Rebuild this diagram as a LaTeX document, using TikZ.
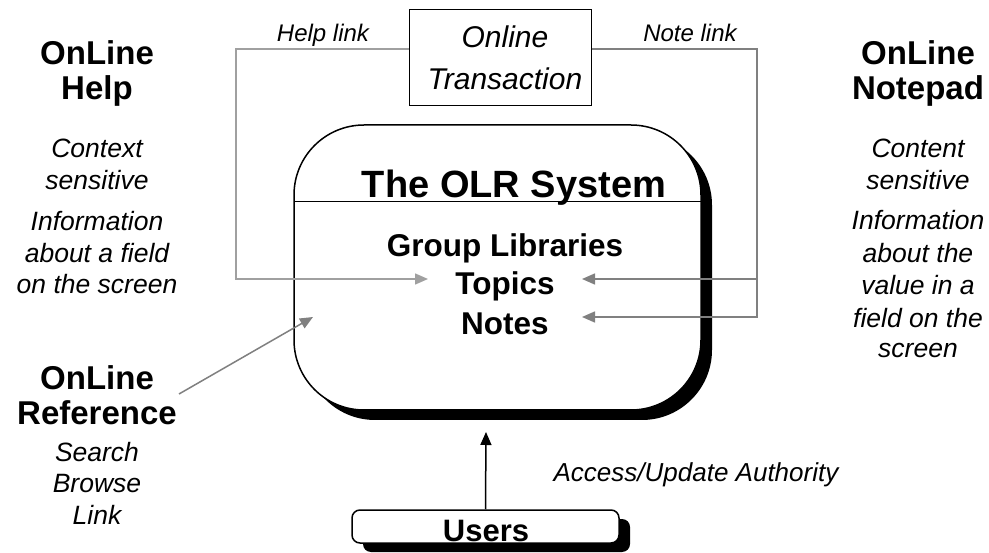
\documentclass[tikz,border=0pt]{standalone}
\usepackage{fontspec}
\setmainfont{Liberation Sans}
\usetikzlibrary{arrows.meta,shadows}
\definecolor{lgray}{HTML}{A0A0A0}
\definecolor{dgray}{HTML}{808080}
\tikzset{
  hd/.style={font=\fontsize{33}{37}\selectfont\bfseries, anchor=base, inner sep=0pt},
  itx/.style={font=\fontsize{26.5}{32}\selectfont\itshape, anchor=base, inner sep=0pt},
  lnk/.style={font=\fontsize{24}{28}\selectfont\itshape, anchor=base, inner sep=0pt},
  inner/.style={font=\fontsize{31.5}{39}\selectfont\bfseries, anchor=base, inner sep=0pt},
  tip/.style={-{Triangle[length=13pt,width=11pt]}},
  helpln/.style={draw=lgray, line width=1.5pt, tip},
  noteln/.style={draw=dgray, line width=1.5pt, tip},
  shbox/.style={draw=black, fill=white, line width=1.5pt,
    drop shadow={shadow xshift=11pt, shadow yshift=-10pt, fill=black, opacity=1}},
}
\begin{document}
\begin{tikzpicture}[x=1pt,y=-1pt]
\useasboundingbox (0,0) rectangle (989,553);
\fill[white] (0,0) rectangle (989,553);

% main system box
\node[shbox, rounded corners=70pt, minimum width=407pt, minimum height=285pt] (olr) at (497.5,267.5) {};
\coordinate (sepL) at (294,202);
\coordinate (sepR) at (701,202);
\draw[line width=1pt] (sepL) -- (sepR);
\node[font=\fontsize{38}{42}\selectfont\bfseries, anchor=base, inner sep=0pt] (title) at (514,198) {The OLR System};
\node[inner] (grp) at (505,257) {Group Libraries};
\node[inner] (top) at (505,295) {Topics};
\node[inner] (not) at (505,335) {Notes};

% online transaction
\node[draw=black, fill=white, line width=1pt, minimum width=182pt, minimum height=96pt] (trans) at (500,58) {};
\node[font=\fontsize{30}{42}\selectfont\itshape, anchor=base, inner sep=0pt] (t1) at (505,48) {Online};
\node[font=\fontsize{30}{42}\selectfont\itshape, anchor=base, inner sep=0pt] (t2) at (505,90) {Transaction};
\node[lnk] (hlink) at (323,42) {Help link};
\node[lnk] (nlink) at (690,42) {Note link};

% help link connector
\coordinate (hlA) at (236,49);
\coordinate (hlB) at (236,279);
\coordinate (htip) at (428,279);
\draw[helpln] (trans.west |- hlA) -- (hlA) -- (hlB) -- (htip);

% note link connectors
\coordinate (nlA) at (757,49);
\coordinate (nlB) at (757,279);
\coordinate (nlC) at (757,317);
\coordinate (ntip1) at (582,279);
\coordinate (ntip2) at (582,317);
\draw[noteln] (trans.east |- nlA) -- (nlA) -- (nlC) -- (ntip2);
\draw[noteln] (nlB) -- (ntip1);

% left column
\node[hd] (l1) at (97,65) {OnLine};
\node[hd] (l2) at (97,100) {Help};
\node[itx] (l3) at (97,158) {Context};
\node[itx] (l4) at (97,190) {sensitive};
\node[itx] (l5) at (97,231) {Information};
\node[itx] (l6) at (97,263) {about a field};
\node[itx] (l7) at (97,294) {on the screen};
\node[hd] (l8) at (97,390) {OnLine};
\node[hd] (l9) at (97,425) {Reference};
\node[itx] (l10) at (97,461) {Search};
\node[itx] (l11) at (97,493) {Browse};
\node[itx] (l12) at (97,525) {Link};

% reference arrow
\coordinate (refA) at (179,394);
\coordinate (refB) at (313,317);
\draw[draw=dgray, line width=1.5pt, tip] (refA) -- (refB);

% right column
\node[hd] (r1) at (918,65) {OnLine};
\node[hd] (r2) at (918,100) {Notepad};
\node[itx] (r3) at (918,158) {Content};
\node[itx] (r4) at (918,190) {sensitive};
\node[itx] (r5) at (918,230) {Information};
\node[itx] (r6) at (918,263) {about the};
\node[itx] (r7) at (918,295) {value in a};
\node[itx] (r8) at (918,328) {field on the};
\node[itx] (r9) at (918,358) {screen};

% users
\node[draw=black, fill=white, line width=1.5pt, rounded corners=8pt, minimum width=267pt, minimum height=33pt,
  drop shadow={shadow xshift=11pt, shadow yshift=-9pt, fill=black, opacity=1}] (users) at (485.5,526.5) {};
\node[font=\fontsize{31}{35}\selectfont\bfseries, anchor=base, inner sep=0pt] (ut) at (486,541) {Users};
\coordinate (uA) at (486,432);
\draw[line width=1.5pt, -{Triangle[length=13pt,width=11pt]}] (users.north) -- (uA);
\node[itx, font=\fontsize{26}{30}\selectfont\itshape] (acc) at (696,482) {Access/Update Authority};
\end{tikzpicture}
\end{document}
